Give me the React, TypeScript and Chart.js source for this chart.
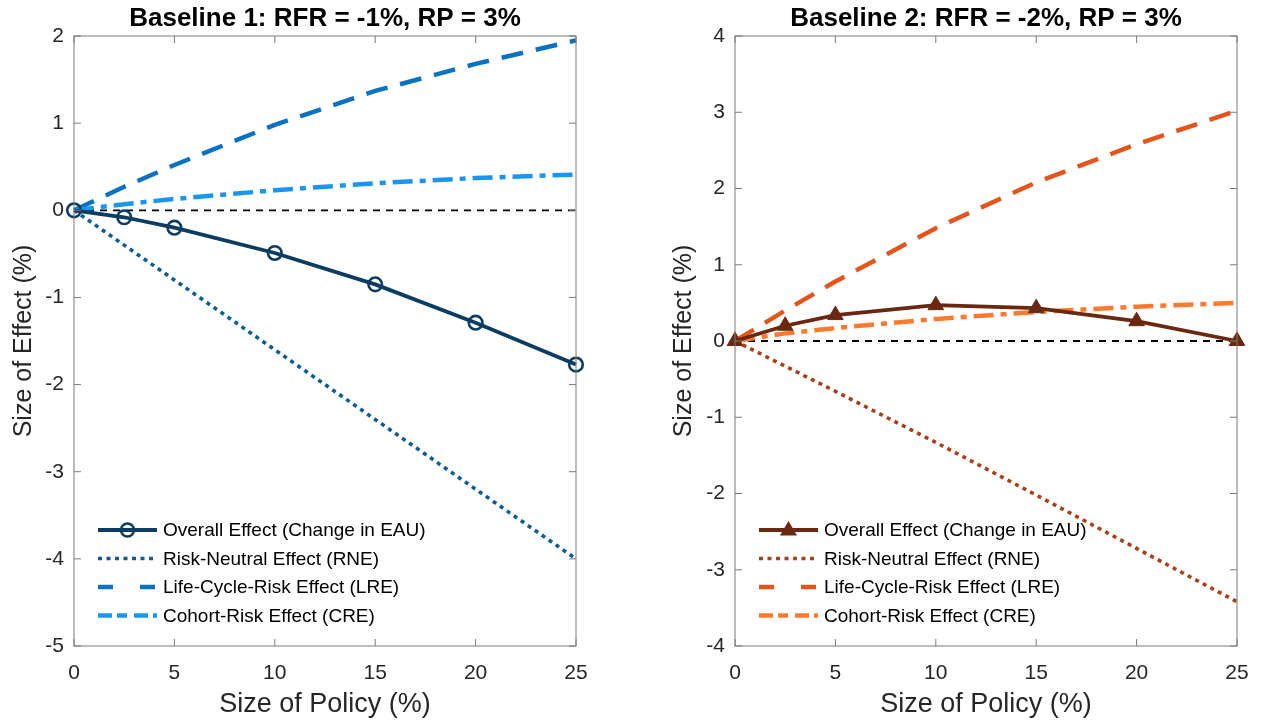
import React, { useEffect, useRef } from "react";
import { Chart, registerables } from "chart.js";
Chart.register(...registerables);

// ---------- data ----------
const xPolicy = [0, 2.5, 5, 10, 15, 20, 25];
const seriesNames = [
  "Overall Effect (Change in EAU)",
  "Risk-Neutral Effect (RNE)",
  "Life-Cycle-Risk Effect (LRE)",
  "Cohort-Risk Effect (CRE)",
];

const b1Overall = [0, -0.08, -0.2, -0.49, -0.85, -1.29, -1.77];
const b1RNE = [0, -0.4, -0.8, -1.6, -2.4, -3.2, -4.0];
const b1LRE = [0, 0.27, 0.52, 0.98, 1.37, 1.68, 1.95];
const b1CRE = [0, 0.07, 0.13, 0.23, 0.31, 0.37, 0.41];

const b2Overall = [0, 0.2, 0.34, 0.47, 0.43, 0.26, 0];
const b2RNE = [0, -0.33, -0.66, -1.33, -2.02, -2.72, -3.42];
const b2LRE = [0, 0.4, 0.78, 1.48, 2.08, 2.58, 3.02];
const b2CRE = [0, 0.1, 0.17, 0.29, 0.38, 0.45, 0.5];

const zeroLine = [0, 0];
const zeroX = [0, 25];

const xTicks = [0, 5, 10, 15, 20, 25];
const yTicks1 = [-5, -4, -3, -2, -1, 0, 1, 2];
const yTicks2 = [-4, -3, -2, -1, 0, 1, 2, 3, 4];

const title1 = "Baseline 1: RFR = -1%, RP = 3%";
const title2 = "Baseline 2: RFR = -2%, RP = 3%";
const xTitle = "Size of Policy (%)";
const yTitle = "Size of Effect (%)";

// ---------- styles ----------
const FONT = '"Liberation Sans", Arial, Helvetica, sans-serif';
const colors1 = ["#0b3c61", "#0f5c92", "#0b72c2", "#1b96f0"];
const colors2 = ["#6b2810", "#a3421c", "#e2561e", "#ff7a2c"];

const toPts = (xs: number[], ys: number[]) => xs.map((x, i) => ({ x, y: ys[i] }));

const dashRNE = [4, 4.5];
const dashLRE = [22, 13];
const dashCRE = [20, 7, 6, 7];

const framePlugin = {
  id: "frame",
  afterDatasetsDraw(chart: any, _args: any, opts: any) {
    const { ctx, chartArea: a, scales } = chart;
    ctx.save();
    // box
    ctx.strokeStyle = "#7a7a7a";
    ctx.lineWidth = 1;
    ctx.setLineDash([]);
    ctx.strokeRect(a.left, a.top, a.right - a.left, a.bottom - a.top);
    // ticks (inward)
    const L = 7;
    ctx.beginPath();
    for (const t of opts.xTicks) {
      const px = scales.x.getPixelForValue(t);
      ctx.moveTo(px, a.bottom);
      ctx.lineTo(px, a.bottom - L);
      ctx.moveTo(px, a.top);
      ctx.lineTo(px, a.top + L);
    }
    for (const t of opts.yTicks) {
      const py = scales.y.getPixelForValue(t);
      ctx.moveTo(a.left, py);
      ctx.lineTo(a.left + L, py);
      ctx.moveTo(a.right, py);
      ctx.lineTo(a.right - L, py);
    }
    ctx.stroke();

    // legend
    const lx0 = a.left + opts.legendX;
    const lx1 = lx0 + 59;
    const tx = lx1 + 6;
    const rowH = 28.5;
    const y0 = opts.legendY;
    ctx.font = "19px " + FONT;
    ctx.textBaseline = "middle";
    ctx.textAlign = "left";
    opts.entries.forEach((e: any, i: number) => {
      const y = y0 + i * rowH;
      ctx.strokeStyle = e.color;
      ctx.lineWidth = e.width;
      ctx.setLineDash(e.legendDash || []);
      ctx.lineCap = "butt";
      ctx.beginPath();
      ctx.moveTo(lx0, y);
      ctx.lineTo(lx1, y);
      ctx.stroke();
      ctx.setLineDash([]);
      if (e.marker === "circle") {
        ctx.beginPath();
        ctx.lineWidth = 2.5;
        ctx.arc((lx0 + lx1) / 2, y, 6.5, 0, Math.PI * 2);
        ctx.stroke();
      } else if (e.marker === "triangle") {
        const cx = (lx0 + lx1) / 2;
        const r = 9;
        ctx.fillStyle = e.color;
        ctx.beginPath();
        ctx.moveTo(cx, y - r);
        ctx.lineTo(cx + r * 0.95, y + r * 0.6);
        ctx.lineTo(cx - r * 0.95, y + r * 0.6);
        ctx.closePath();
        ctx.fill();
      }
      ctx.fillStyle = "#000000";
      ctx.fillText(e.label, tx, y + 1);
    });
    ctx.restore();
  },
};

function makeConfig(p: any) {
  const [cO, cR, cL, cC] = p.colors;
  const datasets: any[] = [
    {
      label: seriesNames[0],
      data: toPts(xPolicy, p.overall),
      borderColor: cO,
      borderWidth: 3.8,
      pointStyle: p.marker,
      pointRadius: p.marker === "circle" ? 6.8 : 9,
      pointBorderWidth: p.marker === "circle" ? 2.6 : 1,
      pointBackgroundColor: p.marker === "circle" ? "rgba(0,0,0,0)" : cO,
      pointBorderColor: cO,
      clip: false,
      order: 1,
    },
    {
      label: seriesNames[1],
      data: toPts(xPolicy, p.rne),
      borderColor: cR,
      borderWidth: 3.6,
      borderDash: dashRNE,
      pointRadius: 0,
      clip: false,
      order: 4,
    },
    {
      label: seriesNames[2],
      data: toPts(xPolicy, p.lre),
      borderColor: cL,
      borderWidth: 4.5,
      borderDash: dashLRE,
      pointRadius: 0,
      clip: false,
      order: 3,
    },
    {
      label: seriesNames[3],
      data: toPts(xPolicy, p.cre),
      borderColor: cC,
      borderWidth: 4.5,
      borderDash: dashCRE,
      pointRadius: 0,
      clip: false,
      order: 2,
    },
    {
      label: "zero",
      data: toPts(zeroX, zeroLine),
      borderColor: "#000000",
      borderWidth: 1.8,
      borderDash: [7, 6],
      pointRadius: 0,
      order: 5,
    },
  ];
  return {
    type: "line" as const,
    data: { datasets },
    options: {
      animation: false,
      responsive: false,
      devicePixelRatio: 1,
      layout: { padding: { left: 0, right: p.padRight, top: 0, bottom: 0 } },
      elements: { line: { tension: 0, borderCapStyle: "butt" } },
      plugins: {
        legend: { display: false },
        tooltip: { enabled: false },
        title: {
          display: true,
          text: p.title,
          fullSize: false,
          color: "#000000",
          font: { family: FONT, size: 26, weight: "bold" },
          padding: { top: 3.5, bottom: 1.3 },
        },
        frame: {
          xTicks,
          yTicks: p.yTicks,
          legendX: 24,
          legendY: 530,
          entries: [
            { label: seriesNames[0], color: cO, width: 3.8, marker: p.marker },
            { label: seriesNames[1], color: cR, width: 3.6, legendDash: dashRNE },
            { label: seriesNames[2], color: cL, width: 4.5, legendDash: [15, 27] },
            { label: seriesNames[3], color: cC, width: 4.5, legendDash: [14, 5, 10, 7] },
          ],
        },
      },
      scales: {
        x: {
          type: "linear",
          min: 0,
          max: 25,
          afterBuildTicks: (s: any) => {
            s.ticks = xTicks.map((v) => ({ value: v }));
          },
          afterFit: (s: any) => {
            s.height = 78;
          },
          grid: { display: false, drawTicks: false },
          border: { display: false },
          ticks: {
            color: "#262626",
            font: { family: FONT, size: 21 },
            padding: 15,
            maxRotation: 0,
            callback: (v: any) => String(v),
          },
          title: {
            display: true,
            text: xTitle,
            color: "#262626",
            font: { family: FONT, size: 27 },
            padding: { top: 0, bottom: 2.8 },
          },
        },
        y: {
          type: "linear",
          min: p.yMin,
          max: p.yMax,
          afterBuildTicks: (s: any) => {
            s.ticks = p.yTicks.map((v: number) => ({ value: v }));
          },
          afterFit: (s: any) => {
            s.width = p.yAxisW;
          },
          grid: { display: false, drawTicks: false },
          border: { display: false },
          ticks: {
            color: "#262626",
            font: { family: FONT, size: 21 },
            padding: 10,
            callback: (v: any) => String(v),
          },
          title: {
            display: true,
            text: yTitle,
            color: "#262626",
            font: { family: FONT, size: 25 },
            padding: { top: p.yTitlePad, bottom: 0 },
          },
        },
      },
    },
    plugins: [framePlugin],
  };
}

const panel1 = {
  title: title1,
  overall: b1Overall,
  rne: b1RNE,
  lre: b1LRE,
  cre: b1CRE,
  colors: colors1,
  marker: "circle",
  yMin: -5,
  yMax: 2,
  yTicks: yTicks1,
  yAxisW: 74,
  yTitlePad: 9,
  padRight: 57,
};

const panel2 = {
  title: title2,
  overall: b2Overall,
  rne: b2RNE,
  lre: b2LRE,
  cre: b2CRE,
  colors: colors2,
  marker: "triangle",
  yMin: -4,
  yMax: 4,
  yTicks: yTicks2,
  yAxisW: 102,
  yTitlePad: 36,
  padRight: 29,
};

function Panel({ p, left }: { p: any; left: number }) {
  const ref = useRef<HTMLCanvasElement>(null);
  useEffect(() => {
    const chart = new Chart(ref.current as HTMLCanvasElement, makeConfig(p) as any);
    return () => chart.destroy();
  }, []);
  return (
    <div style={{ position: "absolute", left, top: 0, width: 633, height: 724 }}>
      <canvas ref={ref} width={633} height={724} style={{ display: "block" }} />
    </div>
  );
}

export default function App() {
  return (
    <div
      style={{
        position: "fixed",
        left: 0,
        top: 0,
        width: 1266,
        height: 724,
        background: "#ffffff",
        overflow: "hidden",
      }}
    >
      <Panel p={panel1} left={0} />
      <Panel p={panel2} left={633} />
    </div>
  );
}
